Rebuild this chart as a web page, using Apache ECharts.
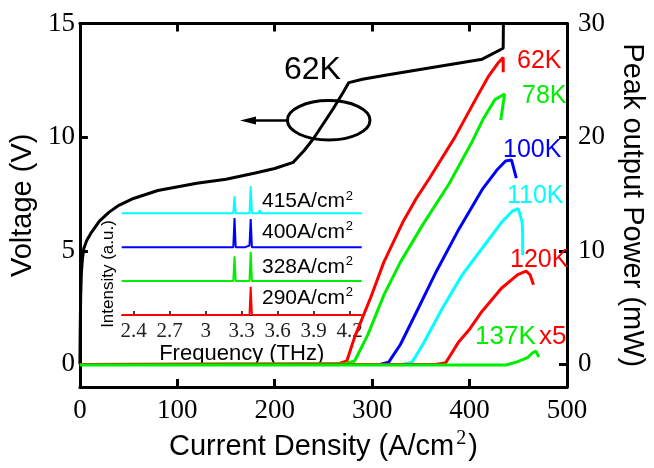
<!DOCTYPE html>
<html><head><meta charset="utf-8">
<script src="https://cdn.jsdelivr.net/npm/echarts@6/dist/echarts.min.js"></script>
<style>html,body{margin:0;padding:0;background:#fff}#c{width:654px;height:468px}</style>
</head><body><div id="c"></div>
<script>
// ---- tick labels ----
const xTicks = [0, 100, 200, 300, 400, 500];
const vTicks = [0, 5, 10, 15];
const pTicks = [0, 10, 20, 30];
const fTicks = [2.4, 2.7, 3, 3.3, 3.6, 3.9, 4.2];

// ---- V-J curve at 62K (left axis, V) ----
const voltage62K = [[0,0],[0.3,1.5],[0.8,3.0],[1.5,4.0],[2.5,4.6],[4,5.1],[7,5.45],[11,5.75],[20,6.3],[30,6.7],[40,7.0],[55,7.3],[80,7.65],[120,7.97],[150,8.15],[180,8.42],[200,8.62],[219,8.89],[230,9.4],[240,9.95],[250,10.6],[260,11.25],[270,11.95],[276,12.4],[290,12.55],[315,12.73],[360,13.05],[413,13.43],[434.5,13.91],[434.7,15]];

// ---- L-J curves (right axis, mW) ----
const power62K  = [[0,0],[265,0.05],[274,0.3],[282,2.4],[299,6.0],[312,9.0],[332,12.6],[346,14.7],[359,16.4],[385,20.0],[406,23.3],[419,25.3],[429,26.5],[434.5,27.0],[434.5,25.7]];
const power78K  = [[0,0],[272,0.05],[282,0.3],[295.5,2.6],[312,6.1],[329,9.0],[352,12.3],[379,15.9],[402,19.5],[414,21.6],[426,23.3],[436,23.8],[432,21.5]];
const power100K = [[0,0],[308,0],[317,0.2],[329,1.75],[346,4.7],[366,8.2],[389,11.9],[413,15.4],[429,17.2],[437,17.9],[443,18.0],[448,16.4]];
const power110K = [[0,0],[330,0],[341,0.2],[352,1.75],[372.5,5.0],[392.6,7.9],[412.7,10.2],[432.8,12.5],[444,13.5],[450,13.7],[454,12.5],[454.5,11.5],[454.5,9.6]];
const power120K = [[0,0],[365,0],[375.5,0.15],[389,2.0],[400,3.1],[412.7,4.66],[432.7,6.7],[449.5,7.9],[458,8.2],[462,7.9],[465.6,7.0]];
const power137K = [[0,-0.05],[437.8,-0.05],[449.5,0.24],[459.5,0.6],[464.5,1.0],[468,1.17],[471.2,0.65]];

// ---- inset spectra (THz, a.u.) ----
const spec290 = [[2.3,0],[3.365,0],[3.375,0.83],[3.385,0],[4.3,0]];
const spec328 = [[2.3,0],[3.23,0],[3.24,0.73],[3.25,0],[3.365,0],[3.375,0.86],[3.385,0],[4.3,0]];
const spec400 = [[2.3,0],[3.23,0],[3.24,0.86],[3.25,0],[3.33,0],[3.345,0.04],[3.365,0.05],[3.375,0.83],[3.385,0],[4.3,0]];
const spec415 = [[2.3,0],[3.23,0],[3.24,0.50],[3.25,0],[3.365,0],[3.375,0.80],[3.385,0],[3.44,0],[3.45,0.08],[3.46,0],[4.3,0]];
const specOffsets = [0, 1, 2, 3];

const RED='#ff0000', GREEN='#00ee00', BLUE='#0000ff', CYAN='#00ffff';
const SANS='Liberation Sans, Arial, sans-serif';
const SERIF='Liberation Serif, Times New Roman, serif';

function shift(arr, off){ return arr.map(p => [p[0], p[1] + off]); }

const chart = echarts.init(document.getElementById('c'), null, {renderer:'canvas'});

const frameLine = {show:true, onZero:false, lineStyle:{color:'#000', width:3}};
const tickIn = {show:true, inside:true, length:8, lineStyle:{color:'#000', width:3}};

function lineSeries(name, data, color, yIdx){
  return {name, type:'line', data, xAxisIndex:0, yAxisIndex:yIdx, showSymbol:false, symbol:'none',
    lineStyle:{color, width:3}, itemStyle:{color}, animation:false, clip:true, z:3};
}
function specSeries(data, off, color){
  return {type:'line', data:shift(data, off), xAxisIndex:2, yAxisIndex:2, showSymbol:false, symbol:'none',
    lineStyle:{color, width:2}, animation:false, z:4};
}

const supRich = {
  a:{fontFamily:SANS, fontSize:21, color:'#000', lineHeight:24},
  s:{fontFamily:SANS, fontSize:13, color:'#000', verticalAlign:'top', lineHeight:24, padding:[0,0,10,1]}
};

function insetLabel(txt, y){
  return {type:'text', left:262, top:y-12, z:10,
    style:{text:'{a|'+txt+'A/cm}{s|2}', rich:supRich}};
}
function curveLabel(txt, color, x, y){
  return {type:'text', left:x, top:y-14, z:10,
    style:{text:txt, fill:color, font:'25px '+SANS}};
}

chart.setOption({
  backgroundColor:'#fff',
  animation:false,
  grid:[
    {left:79, right:78, top:23.5, bottom:78},
    {left:121.7, width:240, top:181, bottom:153}
  ],
  xAxis:[
    {type:'value', gridIndex:0, min:0, max:500, interval:100, position:'bottom',
     axisLine:frameLine, axisTick:{...tickIn, customValues:[100,200,300,400]}, splitLine:{show:false},
     axisLabel:{color:'#000', fontFamily:SERIF, fontSize:27, margin:10, customValues:xTicks},
     name:'{a|Current Density (A/cm}{s|2}{a|)}', nameLocation:'middle', nameGap:40,
     nameTextStyle:{rich:{
       a:{fontFamily:SANS, fontSize:29, color:'#000', lineHeight:36},
       s:{fontFamily:SERIF, fontSize:20, color:'#000', verticalAlign:'top', lineHeight:36, padding:[0,2,14,2]}
     }}},
    {type:'value', gridIndex:0, min:0, max:500, interval:100, position:'top',
     axisLine:frameLine, axisTick:{...tickIn, customValues:[100,200,300,400]}, axisLabel:{show:false}, splitLine:{show:false}},
    {type:'value', gridIndex:1, min:2.3, max:4.3, position:'bottom',
     axisLine:{show:true, onZero:false, lineStyle:{color:'#000', width:1}},
     axisTick:{show:true, inside:true, length:4, lineStyle:{color:'#000', width:1.5}, customValues:fTicks},
     axisLabel:{color:'#222', fontFamily:SERIF, fontSize:21, margin:6, customValues:fTicks},
     splitLine:{show:false},
     name:'Frequency (THz)', nameLocation:'middle', nameGap:26,
     nameTextStyle:{fontFamily:SANS, fontSize:22, color:'#000'}}
  ],
  yAxis:[
    {type:'value', gridIndex:0, min:-1, max:15, position:'left',
     axisLine:frameLine, axisTick:{...tickIn, customValues:vTicks}, splitLine:{show:false},
     axisLabel:{color:'#000', fontFamily:SERIF, fontSize:27, margin:5, customValues:vTicks},
     name:'Voltage (V)', nameLocation:'middle', nameGap:41,
     nameTextStyle:{fontFamily:SANS, fontSize:29, color:'#000'}},
    {type:'value', gridIndex:0, min:-2, max:30, position:'right',
     axisLine:frameLine, axisTick:{...tickIn, customValues:pTicks}, splitLine:{show:false},
     axisLabel:{color:'#000', fontFamily:SERIF, fontSize:27, margin:11, customValues:pTicks},
     name:'Peak output Power (mW)', nameLocation:'middle', nameGap:50, nameRotate:-90,
     nameTextStyle:{fontFamily:SANS, fontSize:29, color:'#000'}},
    {type:'value', gridIndex:1, min:0, max:3.95, show:false}
  ],
  series:[
    lineSeries('62K V', voltage62K, '#000', 0),
    lineSeries('62K', power62K, RED, 1),
    lineSeries('78K', power78K, GREEN, 1),
    lineSeries('100K', power100K, BLUE, 1),
    lineSeries('110K', power110K, CYAN, 1),
    lineSeries('120K', power120K, RED, 1),
    lineSeries('137K', power137K, GREEN, 1),
    specSeries(spec290, specOffsets[0], RED),
    specSeries(spec328, specOffsets[1], GREEN),
    specSeries(spec400, specOffsets[2], BLUE),
    specSeries(spec415, specOffsets[3], CYAN)
  ],
  graphic:[
    {type:'ellipse', shape:{cx:328.7, cy:120.3, rx:41.3, ry:19.7}, style:{fill:'none', stroke:'#000', lineWidth:3}, z:10},
    {type:'line', shape:{x1:287.5, y1:120.5, x2:252, y2:120.5}, style:{stroke:'#000', lineWidth:2.5}, z:10},
    {type:'polygon', shape:{points:[[240,120.5],[256,116.5],[256,124.5]]}, style:{fill:'#000'}, z:10},
    {type:'text', left:284, top:54, z:10, style:{text:'62K', fill:'#000', font:'32px '+SANS}},
    curveLabel('62K', RED, 517, 62.5),
    curveLabel('78K', GREEN, 522, 98),
    curveLabel('100K', BLUE, 503, 152),
    curveLabel('110K', CYAN, 507, 198),
    curveLabel('120K', RED, 510, 262),
    {type:'text', left:475, top:324, z:10, style:{text:'{g|137K} {r|x5}', rich:{
      g:{fill:GREEN, color:GREEN, fontFamily:SANS, fontSize:26},
      r:{fill:RED, color:RED, fontFamily:SANS, fontSize:26}}}},
    insetLabel('415', 201.7),
    insetLabel('400', 232.3),
    insetLabel('328', 267.3),
    insetLabel('290', 298.3),
    {type:'text', x:108, y:274, rotation:Math.PI/2, z:10,
     style:{text:'Intensity (a.u.)', fill:'#000', font:'17px '+SANS, align:'center', verticalAlign:'middle'}}
  ]
});
</script></body></html>
